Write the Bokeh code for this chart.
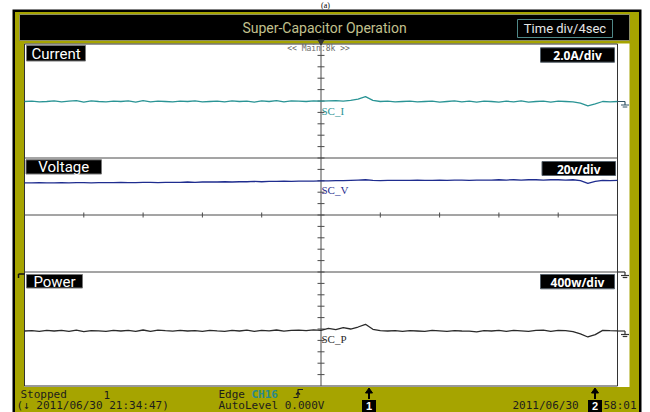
import numpy as np
from bokeh.plotting import figure
from bokeh.models import Range1d
from bokeh.core.properties import value
from bokeh.embed import file_html
from bokeh.resources import INLINE

# ---------------- data ----------------
# sample instants (s); 4 s/div, trigger at 0
time_s = np.arange(81) * 0.5 - 20.0

current_A = [
    0.00, 0.01, -0.01, 0.00, 0.02, -0.01, 0.01, 0.03, -0.02, 0.02,
    0.00, -0.01, 0.01, 0.00, 0.02, -0.02, 0.03, -0.01, 0.01, 0.00,
    -0.01, 0.01, 0.00, 0.02, -0.01, 0.00, 0.01, -0.01, 0.02, 0.00,
    0.01, -0.02, 0.02, 0.00, 0.03, -0.01, 0.02, 0.01, 0.00, 0.02,
    0.01, 0.02, 0.03, 0.01, 0.04, 0.08, 0.17, 0.04, 0.00, 0.01,
    -0.01, 0.00, 0.01, -0.01, 0.00, 0.01, -0.02, 0.00, 0.02, -0.01,
    0.01, -0.02, 0.01, 0.00, -0.02, 0.01, -0.01, 0.02, -0.02, 0.00,
    0.01, -0.02, 0.01, 0.00, -0.01, -0.06, -0.15, -0.08, 0.00, -0.01,
    0.00,
]
voltage_V = [
    32.5, 32.5, 32.6, 32.5, 32.5, 32.6, 32.5, 32.6, 32.6, 32.5,
    32.6, 32.6, 32.6, 32.7, 32.6, 32.6, 32.7, 32.7, 32.6, 32.7,
    32.7, 32.7, 32.8, 32.7, 32.8, 32.8, 32.8, 32.9, 32.8, 32.9,
    32.9, 33.0, 32.9, 33.0, 33.0, 33.1, 33.0, 33.1, 33.1, 33.1,
    33.2, 33.2, 33.3, 33.3, 33.4, 33.5, 33.6, 33.4, 33.3, 33.4,
    33.4, 33.4, 33.4, 33.5, 33.4, 33.4, 33.5, 33.4, 33.5, 33.5,
    33.4, 33.5, 33.5, 33.5, 33.6, 33.5, 33.6, 33.5, 33.6, 33.6,
    33.5, 33.6, 33.6, 33.5, 33.6, 33.3, 32.3, 33.0, 33.4, 33.3,
    33.4,
]
power_W = [
    0, 3, -2, 4, 0, 5, -3, 6, -4, 3,
    1, -2, 5, 0, 4, -3, 7, -2, 6, 2,
    -1, 4, 0, 3, -3, 5, 1, -2, 4, 0,
    6, -2, 5, 1, 7, -1, 4, 6, 2, 8,
    5, 18, 10, 24, 14, 28, 47, 12, 2, 0,
    3, -2, 2, 0, -3, 4, 1, -2, 3, 0,
    -1, -6, 3, 0, 4, -2, 5, 1, -3, 4,
    6, -3, 5, 2, -5, -20, -42, -25, 4, 2,
    1,
]

channel_names = ["Current", "Voltage", "Power"]
channel_scales = ["2.0A/div", "20v/div", "400w/div"]
trace_tags = ["SC_I", "SC_V", "SC_P"]
units_per_div = [2.0, 20.0, 400.0]
time_per_div = 4.0
title_text = "Super-Capacitor Operation"
timebase_text = "Time div/4sec"
status_texts = ["Stopped", "1", "(\u2193 2011/06/30 21:34:47)", "Edge", "CH16",
                "AutoLevel 0.000V", "2011/06/30", "58:01"]
cursor_labels = ["1", "2"]

# ---------------- screen geometry / styles ----------------
W, H = 650, 412
X0, X1 = 0, 650
Y0, Y1 = 0, 412
GL, GR = 24.0, 617.0
GT, GB = 43.5, 385.5
DX = (GR - GL) / 10
DY = (GB - GT) / 6
XC = 320.5
zero_rows = [101.0, 275.0, 330.5]

OLIVE = "#a6a400"
TEAL = "#2a9495"
NAVY = "#1f2d8f"
DARK = "#2a2a2a"
GRID = "#4a4a4a"
NARROW = "Roboto"
MONO = "DejaVu Sans Mono"

p = figure(width=W, height=H, x_range=Range1d(X0, X1), y_range=Range1d(Y1, Y0),
           output_backend="svg", toolbar_location=None, min_border=0,
           x_axis_location=None, y_axis_location=None, outline_line_color=None,
           background_fill_color="white", border_fill_color="white")
p.grid.visible = False

tpp = DX / time_per_div
p.extra_x_ranges = {"t": Range1d((X0 - XC) / tpp, (X1 - XC) / tpp)}
yr = {}
for name, z, u in zip(["cur", "volt", "pow"], zero_rows, units_per_div):
    ppu = DY / u
    yr[name] = Range1d((z - Y1) / ppu, (z - Y0) / ppu)
p.extra_y_ranges = yr


def box(l, r, t, b, fill, line=None, lw=1):
    p.quad(left=[l], right=[r], top=[t], bottom=[b], fill_color=fill,
           line_color=line, line_width=lw)


def txt(x, y, s, size, color, font, align="left", style="normal"):
    p.text(x=[x], y=[y], text=[s], text_font=value(font),
           text_font_size=value(f"{size}px"), text_color=color,
           text_align=align, text_baseline="middle", text_font_style=style)


def seg(x0, y0, x1, y1, color=GRID, lw=1):
    p.segment(x0=x0, y0=y0, x1=x1, y1=y1, line_color=color, line_width=lw)


# "(a)" caption
txt(325, 4.5, "(a)", 8, "black", "Liberation Serif", align="center")

# frame
box(12, 641, 9, 413, "black")
box(14.5, 638.5, 11.5, 413, OLIVE)
box(19, 629, 14, 40, "black", "#8e8e62")
box(517, 612, 19, 37, "black", "#4f8888")
txt(324, 27.5, title_text, 14, "#c2c08e", NARROW, align="center")
txt(564.5, 28, timebase_text, 13, "#e6e6e6", NARROW, align="center")

# screen
box(24, 629, 43, 386.5, "white")
seg([GL, GL, GR, GL], [GT, GB, GT, GT], [GR, GR, GR, GL], [GT, GB, GB, GB], "#333333")
seg([GL] * 3, [GT + 2 * DY, GT + 3 * DY, GT + 4 * DY],
    [GR] * 3, [GT + 2 * DY, GT + 3 * DY, GT + 4 * DY])
seg([XC], [GT], [XC], [GB])
ty = [GT + k * DY / 5 for k in range(1, 30)]
seg([XC - 3.5] * len(ty), ty, [XC + 3.5] * len(ty), ty)
tx = [GL + k * DX for k in range(1, 10) if k != 5]
mid = GT + 3 * DY
seg(tx, [mid - 2.5] * len(tx), tx, [mid + 2.5] * len(tx))
p.patch(x=[317.5, 323.5, 320.5], y=[39.5, 39.5, 44.5], color="#333333")
txt(318, 47.5, "<< Main:8k >>", 8, "#6a6a6a", MONO, align="center")

# channel label boxes
lab_boxes = [(26, 85, 45, 60.5), (25.5, 101, 159.3, 173.5), (26, 82, 274, 287.5)]
for (l, r, t, b), s in zip(lab_boxes, channel_names):
    box(l, r, t, b, "black", "#777777")
    txt((l + r) / 2, (t + b) / 2 + 0.5, s, 15, "white", NARROW, align="center")
sc_boxes = [(540, 614, 47.3, 61.7), (541.5, 615, 161, 175), (540, 614, 274, 288.3)]
for (l, r, t, b), s in zip(sc_boxes, channel_scales):
    box(l, r, t, b, "black", "#55606a")
    txt((l + r) / 2, (t + b) / 2 + 0.5, s, 12, "white", "Open Sans", align="center", style="bold")

# traces
p.line(time_s, current_A, x_range_name="t", y_range_name="cur", line_color=TEAL, line_width=1.3)
p.line(time_s, voltage_V, x_range_name="t", y_range_name="volt", line_color=NAVY, line_width=1.3)
p.line(time_s, power_W, x_range_name="t", y_range_name="pow", line_color=DARK, line_width=1.3)

tag_y = [110, 189.5, 338]
tag_c = [TEAL, NAVY, DARK]
for y, s, c in zip(tag_y, trace_tags, tag_c):
    txt(321, y, s, 11, c, "Liberation Serif")

# ground markers
for y0, c in [(101.0, "#335566"), (271.5, "#333333"), (330.5, "#333333")]:
    seg([GR, 624.5, 620.5, 622.2], [y0, y0, y0 + 3.5, y0 + 5.5],
        [624.5, 624.5, 628.5, 626.8], [y0, y0 + 3.5, y0 + 3.5, y0 + 5.5], c, 1.2)
seg([18, 18], [273.5, 273.5], [24, 18], [273.5, 277.5], "#111111", 1.5)

# status bar
SC = "#1c1c1c"
txt(20, 394, status_texts[0], 11, SC, MONO)
txt(103, 394, status_texts[1], 11, SC, MONO)
txt(16, 405, status_texts[2], 11, SC, MONO)
txt(218, 394, status_texts[3], 11, SC, MONO)
txt(251, 394, status_texts[4], 11, "#2a8a8a", MONO, style="bold")
txt(218, 405, status_texts[5], 11, SC, MONO)
txt(512, 405, status_texts[6], 11, SC, MONO)
txt(603, 405, status_texts[7], 11, SC, MONO)
p.line(x=[293, 297.5, 297.5, 302.5], y=[397, 397, 389, 389], line_color=SC, line_width=1.2)
p.line(x=[295.5, 297.5, 299.5], y=[394, 392, 394], line_color=SC, line_width=1.2)

for xc, s in zip([368.5, 594.5], cursor_labels):
    seg([xc], [391], [xc], [398.5], "black", 2)
    p.patch(x=[xc - 3.5, xc + 3.5, xc], y=[392.5, 392.5, 387.5], color="black")
    box(xc - 7, xc + 7, 399.5, 413, "black")
    txt(xc, 405.5, s, 11, "white", "Liberation Sans", align="center", style="bold")

open("out.html", "w").write(file_html(p, INLINE))
